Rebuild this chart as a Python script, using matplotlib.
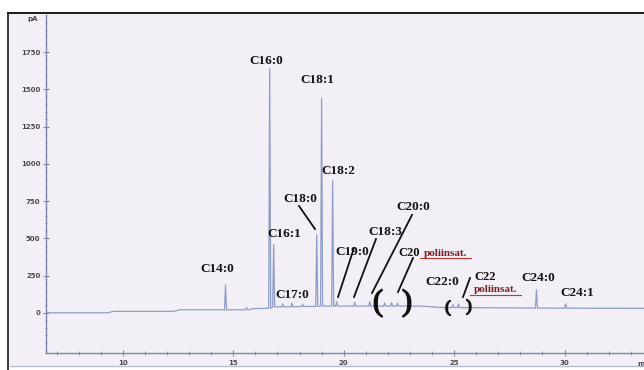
import numpy as np
import matplotlib
matplotlib.use("Agg")
import matplotlib.pyplot as plt
import matplotlib.patheffects as pe
from matplotlib.transforms import Affine2D, blended_transform_factory
from matplotlib.patches import Rectangle

# ---------------- data ----------------
baseline_rt = [6.5, 9.3, 9.6, 12.3, 12.6, 15.7, 15.9, 16.6, 16.9, 19.2, 23.5, 24.5, 33.6]
baseline_pA = [0, 0, 10, 10, 20, 20, 28, 30, 40, 45, 45, 35, 30]

peak_rt   = [14.65, 15.6, 16.65, 16.83, 17.24, 17.65, 18.14, 18.78, 19.00, 19.50,
             19.68, 20.50, 21.18, 21.86, 22.17, 22.44, 24.95, 25.20, 28.73, 30.05]
peak_apex = [188, 35, 1640, 457, 60, 65, 58, 524, 1440, 887,
             75, 70, 75, 65, 68, 65, 55, 58, 155, 60]
peak_base = [20, 20, 30, 40, 40, 40, 42, 43, 45, 45,
             45, 45, 45, 45, 45, 45, 35, 35, 32, 31]

y_ticks = [0, 250, 500, 750, 1000, 1250, 1500, 1750]
y_tick_labels = ["0", "250", "500", "750", "1000", "1250", "1500", "1750"]
x_ticks = [10, 15, 20, 25, 30]
x_tick_labels = ["10", "15", "20", "25", "30"]

labels = ["C14:0", "C16:0", "C16:1", "C17:0", "C18:0", "C18:1", "C18:2",
          "C19:0", "C18:3", "C20:0", "C22:0", "C24:0", "C24:1"]
# ---------------- figure ----------------
W, H = 644, 370
fig = plt.figure(figsize=(W / 100, H / 100), dpi=100)
fig.patch.set_facecolor("white")
PX = Affine2D().scale(1, -1).translate(0, H)  # pixel coords, y from top

bg = "#f3eff6"
fig.patches.append(Rectangle((8, 13), W - 8, 353, transform=PX, facecolor=bg,
                             edgecolor="none", zorder=-5))
fig.lines.append(plt.Line2D([8, W], [13, 13], transform=PX, color="#1a1a1a", lw=1.4, zorder=-4))
fig.lines.append(plt.Line2D([8, 8], [13, H], transform=PX, color="#1a1a1a", lw=1.2, zorder=-4))
fig.lines.append(plt.Line2D([10, W], [366, 366], transform=PX, color="#b8bfd2", lw=1.0, zorder=-4))

ax = fig.add_axes([46 / W, 17 / H, 598 / W, 338 / H])
ax.set_facecolor("none")
ax.set_zorder(1)
ax.set_xlim(6.52, 33.6)
ax.set_ylim(-270, 2000)

# build trace
w = 0.045
xs = list(baseline_rt)
ys = list(baseline_pA)
for t, a, b in zip(peak_rt, peak_apex, peak_base):
    xs += [t - w, t, t + w]
    ys += [b, a, b]
order = np.argsort(xs, kind="stable")
ax.plot(np.array(xs)[order], np.array(ys)[order], color="#8e9dc8", lw=0.9)

spine_c = "#7d86aa"
for s in ["top", "right"]:
    ax.spines[s].set_visible(False)
for s in ["left", "bottom"]:
    ax.spines[s].set_color(spine_c)
    ax.spines[s].set_linewidth(1.0)

ax.set_yticks(y_ticks)
ax.set_yticklabels(y_tick_labels)
ax.set_yticks(np.arange(-250, 2000, 50), minor=True)
ax.set_xticks(x_ticks)
ax.set_xticklabels(x_tick_labels)
ax.set_xticks(np.arange(7, 34, 1), minor=True)
ax.tick_params(axis="both", which="major", direction="inout", length=4, width=0.8,
               color=spine_c, labelsize=5, labelcolor="#4a4a4a", pad=2)
ax.tick_params(axis="x", which="minor", direction="inout", length=3, width=0.6,
               color=spine_c)
ax.tick_params(axis="y", which="minor", direction="inout", length=1.5, width=0.5,
               color=spine_c)
for lab in ax.get_xticklabels() + ax.get_yticklabels():
    lab.set_fontweight("bold")
ax.tick_params(axis="x", pad=3)

ax.text(-0.013, 1976, "pA", transform=blended_transform_factory(ax.transAxes, ax.transData),
        ha="right", va="center", fontsize=5, fontweight="bold", color="#4a4a4a")
ax.text(33.45, -0.025, "m", transform=blended_transform_factory(ax.transData, ax.transAxes),
        ha="center", va="top", fontsize=5, fontweight="bold", color="#4a4a4a")

# ---------------- annotations ----------------
lab_pos = {"C14:0": (217, 269), "C16:0": (266, 61), "C16:1": (284, 234),
           "C17:0": (292, 295), "C18:0": (300, 199), "C18:1": (317, 80),
           "C18:2": (338, 171), "C19:0": (352, 252), "C18:3": (385, 232),
           "C20:0": (413, 207), "C22:0": (442, 282), "C24:0": (538, 278),
           "C24:1": (577, 293)}
font = dict(family="Liberation Serif", fontweight="bold", color="#111111")
for name in labels:
    x, y = lab_pos[name]
    fig.text(x, y, name, transform=PX, ha="center", va="center", fontsize=9.5, **font)

fig.text(409, 253, "C20", transform=PX, ha="center", va="center", fontsize=9, **font)
fig.text(485, 277, "C22", transform=PX, ha="center", va="center", fontsize=9, **font)
red = "#7a1f24"
for (x, y) in [(445, 253), (495, 290)]:
    fig.text(x, y, "poliinsat.", transform=PX, ha="center", va="center", fontsize=8,
             family="Liberation Serif", fontweight="bold", color=red)
fig.lines.append(plt.Line2D([420, 471], [258, 258], transform=PX, color="#c0392b", lw=0.8))
fig.lines.append(plt.Line2D([470, 521], [295, 295], transform=PX, color="#c0392b", lw=0.8))

leaders = [((299, 206), (315, 229)), ((354, 248), (338, 297)), ((376, 239), (354, 297)),
           ((412, 215), (372, 293)), ((413, 258), (398, 292)), ((470, 278), (463, 297))]
for (x0, y0), (x1, y1) in leaders:
    fig.lines.append(plt.Line2D([x0, x1], [y0, y1], transform=PX, color="#111111", lw=1.3))

for x, y, ch, fs in [(378, 303, "(", 22), (407, 303, ")", 22),
                     (448, 308, "(", 12), (469, 307, ")", 12)]:
    fig.text(x, y, ch, transform=PX, ha="center", va="center", fontsize=fs,
             family="Liberation Serif", fontweight="normal", color="#111111",
             path_effects=[pe.withStroke(linewidth=1.0, foreground="#111111")])

fig.savefig("out.png", dpi=100, facecolor="white")
